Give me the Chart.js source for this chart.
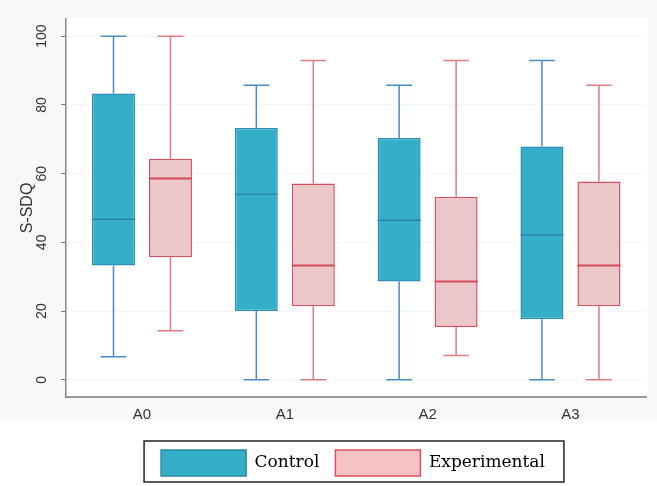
<!DOCTYPE html>
<html>
<head>
<meta charset="utf-8">
<script src="https://cdn.jsdelivr.net/npm/chart.js@4.4.1/dist/chart.umd.min.js"></script>
<style>
  html, body { margin: 0; padding: 0; background: #fff; }
  #wrap { width: 657px; height: 486px; }
</style>
</head>
<body>
<div id="wrap"><canvas id="chart" width="657" height="486"></canvas></div>
<script>
// === Box plot S-SDQ: Control x Experimental ===

const categories = ['A0', 'A1', 'A2', 'A3'];
const yTicks = [0, 20, 40, 60, 80, 100];

// Control group
const controlMin    = [6.7, 0, 0, 0];
const controlQ1     = [33.3, 20.0, 28.6, 17.6];
const controlMedian = [46.7, 54.0, 46.4, 42.2];
const controlQ3     = [83.3, 73.3, 70.4, 67.9];
const controlMax    = [100, 85.7, 85.7, 92.9];

// Experimental group
const expMin    = [14.3, 0, 7.1, 0];
const expQ1     = [35.7, 21.4, 15.4, 21.4];
const expMedian = [58.6, 33.3, 28.6, 33.3];
const expQ3     = [64.3, 57.1, 53.3, 57.7];
const expMax    = [100, 92.9, 92.9, 85.7];

const controlStyle = { fill: '#35aec9', border: '#2e8db3', whisker: '#4a8cc6', median: '#2c74aa', legendFill: '#33aec8', legendStroke: '#2a8aa2' };
const expStyle     = { fill: '#ecc7ca', border: '#d4505e', whisker: '#e07b86', median: '#d04a59', legendFill: '#f5c3c5', legendStroke: '#d9505a' };

const sansFont = "'Liberation Sans', Arial, sans-serif";

// fundo cinza claro do Stata em volta da area do grafico
const backgroundPlugin = {
  id: 'stataBackground',
  beforeDraw(chart) {
    const { ctx, chartArea: ca } = chart;
    ctx.save();
    ctx.fillStyle = '#ffffff';
    ctx.fillRect(0, 0, chart.width, chart.height);
    ctx.fillStyle = '#f7f9f9';
    ctx.fillRect(0, 0, chart.width, ca.bottom + 22);
    ctx.fillStyle = '#ffffff';
    ctx.fillRect(ca.left, ca.top - 1, ca.right - ca.left + 2, ca.bottom - ca.top + 1);
    ctx.restore();
  }
};

// bigodes e medianas sobre as barras flutuantes (Q1..Q3)
const boxPlotPlugin = {
  id: 'boxPlot',
  afterDatasetsDraw(chart) {
    const ctx = chart.ctx;
    const yScale = chart.scales.y;
    chart.data.datasets.forEach((ds, di) => {
      const meta = chart.getDatasetMeta(di);
      const st = ds.stats;
      meta.data.forEach((bar, i) => {
        const x = bar.x;
        const half = bar.width / 2;
        const cap = bar.width * 0.3;
        const yMin = yScale.getPixelForValue(st.min[i]);
        const yQ1 = yScale.getPixelForValue(st.q1[i]);
        const yMed = yScale.getPixelForValue(st.median[i]);
        const yQ3 = yScale.getPixelForValue(st.q3[i]);
        const yMax = yScale.getPixelForValue(st.max[i]);

        ctx.save();
        ctx.strokeStyle = st.style.whisker;
        ctx.lineWidth = 1.5;
        ctx.beginPath();
        ctx.moveTo(x, yQ3); ctx.lineTo(x, yMax);
        ctx.moveTo(x - cap, yMax); ctx.lineTo(x + cap, yMax);
        ctx.moveTo(x, yQ1); ctx.lineTo(x, yMin);
        ctx.moveTo(x - cap, yMin); ctx.lineTo(x + cap, yMin);
        ctx.stroke();

        ctx.strokeStyle = st.style.median;
        ctx.lineWidth = st.style === expStyle ? 2 : 1.2;
        ctx.beginPath();
        ctx.moveTo(x - half, yMed); ctx.lineTo(x + half, yMed);
        ctx.stroke();
        ctx.restore();
      });
    });
  }
};

// legenda centrada sob a area do grafico, com moldura
const legendFramePlugin = {
  id: 'legendFrame',
  afterLayout(chart) {
    const lg = chart.legend;
    const ca = chart.chartArea;
    const shift = (ca.left + ca.right) / 2 - (lg.left + lg.right) / 2 - 3;
    lg.left += shift;
    lg.right += shift;
  },
  afterDraw(chart) {
    const boxes = chart.legend.legendHitBoxes;
    if (!boxes || !boxes.length) return;
    const first = boxes[0];
    const last = boxes[boxes.length - 1];
    const ctx = chart.ctx;
    ctx.save();
    ctx.strokeStyle = '#222';
    ctx.lineWidth = 1.5;
    ctx.strokeRect(first.left - 17, first.top - 9,
      last.left + last.width + 19 - (first.left - 17), first.height + 15);
    ctx.restore();
  }
};

const datasets = [
  {
    label: 'Control',
    data: categories.map((c, i) => ({ x: i, y: [controlQ1[i], controlQ3[i]] })),
    backgroundColor: controlStyle.fill,
    borderColor: controlStyle.border,
    borderWidth: 1.5,
    borderSkipped: false,
    stats: { min: controlMin, q1: controlQ1, median: controlMedian, q3: controlQ3, max: controlMax, style: controlStyle }
  },
  {
    label: 'Experimental',
    data: categories.map((c, i) => ({ x: i, y: [expQ1[i], expQ3[i]] })),
    backgroundColor: expStyle.fill,
    borderColor: expStyle.border,
    borderWidth: 1.5,
    borderSkipped: false,
    stats: { min: expMin, q1: expQ1, median: expMedian, q3: expQ3, max: expMax, style: expStyle }
  }
];

const legendStyles = [controlStyle, expStyle];

new Chart(document.getElementById('chart'), {
  type: 'bar',
  data: { datasets },
  options: {
    responsive: false,
    animation: false,
    categoryPercentage: 0.798,
    barPercentage: 0.754,
    layout: { padding: { top: 19, right: 11, left: 0, bottom: 0 } },
    plugins: {
      tooltip: { enabled: false },
      legend: {
        position: 'bottom',
        labels: {
          boxWidth: 85,
          boxHeight: 26,
          padding: 16,
          color: '#222',
          font: { family: "'DejaVu Serif', serif", size: 17 },
          generateLabels: (chart) => chart.data.datasets.map((ds, i) => ({
            text: ds.label,
            fillStyle: legendStyles[i].legendFill,
            strokeStyle: legendStyles[i].legendStroke,
            lineWidth: 1.5,
            hidden: false,
            datasetIndex: i
          }))
        }
      }
    },
    scales: {
      x: {
        type: 'linear',
        offset: false,
        min: -0.532,
        max: 3.529,
        afterBuildTicks: (s) => { s.ticks = categories.map((c, i) => ({ value: i })); },
        grid: { display: false, drawTicks: false, offset: false },
        border: { color: '#999', width: 2 },
        ticks: {
          padding: 9,
          color: '#333',
          font: { family: sansFont, size: 15 },
          callback: (v) => categories[v]
        },
        afterFit: (s) => { s.height = 37; }
      },
      y: {
        min: -5,
        max: 105,
        afterBuildTicks: (s) => { s.ticks = yTicks.map(v => ({ value: v })); },
        grid: { color: 'rgba(0,0,0,0.035)', tickColor: '#777', tickLength: 5 },
        border: { color: '#888', width: 1.5 },
        ticks: {
          minRotation: 90,
          maxRotation: 90,
          crossAlign: 'center',
          padding: 7,
          color: '#333',
          font: { family: sansFont, size: 14 }
        },
        title: {
          display: true,
          text: 'S-SDQ',
          color: '#333',
          font: { family: sansFont, size: 16 },
          padding: { top: 18, bottom: 0 }
        },
        afterFit: (s) => { s.width = 66; }
      }
    }
  },
  plugins: [backgroundPlugin, boxPlotPlugin, legendFramePlugin]
});
</script>
</body>
</html>
